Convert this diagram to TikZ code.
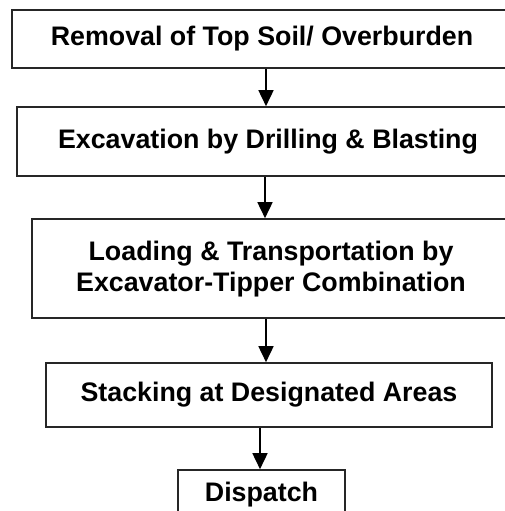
\documentclass[tikz,border=0pt]{standalone}
\usepackage{fontspec}
\setmainfont{Liberation Sans}
\usetikzlibrary{arrows.meta}
\begin{document}
\begin{tikzpicture}[x=1pt,y=-1pt,
  stepbox/.style={draw=black!85, line width=1.6pt, inner sep=0pt, align=center,
    font=\fontsize{26.8}{36}\selectfont\bfseries},
  arr/.style={line width=1.6pt, -{Triangle[length=16pt,width=15pt]}}]
\useasboundingbox (0,0) rectangle (505,511);
\clip (0,0) rectangle (505,511);
\node[stepbox, minimum width=500pt, minimum height=58pt] (b1) at (262,39) {Removal of Top Soil/ Overburden};
\node[stepbox, minimum width=502pt, minimum height=69pt] (b2) at (268,141.5) {\raisebox{5pt}{Excavation by Drilling \& Blasting}};
\node[stepbox, minimum width=478pt, minimum height=99pt] (b3) at (271,268.5) {\raisebox{3pt}{\begin{tabular}{c}Loading \& Transportation by\\[-5pt] Excavator-Tipper Combination\end{tabular}}};
\node[stepbox, minimum width=446pt, minimum height=64pt] (b4) at (269,395) {\raisebox{5pt}{Stacking at Designated Areas}};
\node[stepbox, minimum width=167pt, minimum height=50pt] (b5) at (261.5,495) {\raisebox{3pt}{Dispatch}};
\draw[arr] (b1.south -| 266,0) -- (b2.north -| 266,0);
\draw[arr] (b2.south -| 265,0) -- (b3.north -| 265,0);
\draw[arr] (b3.south -| 266,0) -- (b4.north -| 266,0);
\draw[arr] (b4.south -| 260,0) -- (b5.north -| 260,0);
\end{tikzpicture}
\end{document}
